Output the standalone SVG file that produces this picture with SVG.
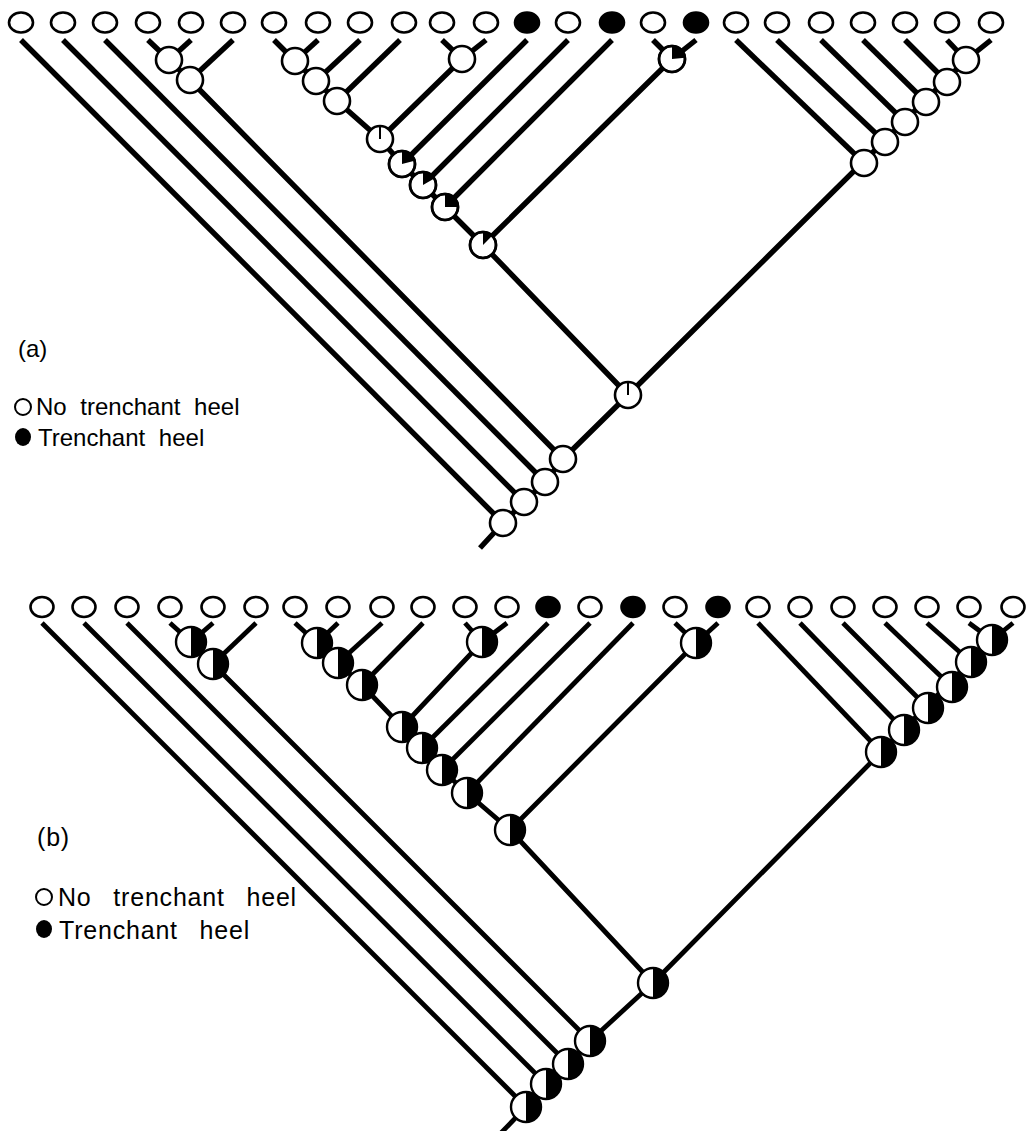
<svg xmlns="http://www.w3.org/2000/svg" width="1027" height="1131" viewBox="0 0 1027 1131">
<style>
.tip{fill:#fff;stroke:#000;stroke-width:2.6}
.tipf{fill:#000;stroke:#000;stroke-width:2.6}
.nd{fill:#fff;stroke:#000;stroke-width:2.6}
.blk{fill:#000;stroke:none}
.tick{stroke:#000;stroke-width:2}
.ea{stroke:#000;stroke-width:5.4;fill:none;stroke-linecap:butt;stroke-linejoin:round}
.eb{stroke:#000;stroke-width:4.8;fill:none;stroke-linecap:butt;stroke-linejoin:round}
.lbl{font-family:"Liberation Sans",Arial,sans-serif;font-size:24px;fill:#000;word-spacing:7px}
.lblb{font-family:"Liberation Sans",Arial,sans-serif;font-size:25px;fill:#000;word-spacing:14px;letter-spacing:0.8px}
</style>
<rect width="1027" height="1131" fill="#fff"/>

<!-- ===== Panel (a) connectors ===== -->
<g id="edges-a" class="ea">
<path d="M21,40 L503,523"/>
<path d="M63,40 L524,502"/>
<path d="M105,40 L545,482"/>
<path d="M148,40 L169,60 L190,80 L563,459"/>
<path d="M191,40 L169,60"/>
<path d="M233,40 L190,80"/>
<path d="M274,40 L295,61 L316,81 L337,101 L380,139 L402,164 L423,185 L445,207 L483,245 L628,395"/>
<path d="M318,40 L295,61"/>
<path d="M360,40 L316,81"/>
<path d="M400,40 L337,101"/>
<path d="M442,40 L462,59"/>
<path d="M486,40 L462,59 L380,139"/>
<path d="M527,40 L402,164"/>
<path d="M568,40 L423,185"/>
<path d="M612,40 L445,207"/>
<path d="M653,40 L672,59"/>
<path d="M696,40 L672,59 L483,245"/>
<path d="M736,40 L864,163"/>
<path d="M777,40 L885,142"/>
<path d="M821,40 L905,122"/>
<path d="M863,40 L926,102"/>
<path d="M905,40 L947,82"/>
<path d="M947,40 L966,60"/>
<path d="M991,40 L966,60 L628,395"/>
<path d="M628,395 L563,459 L545,482 L524,502 L503,523 L480,548"/>
</g>

<!-- ===== Panel (a) tips ===== -->
<g id="tips-a">
<ellipse id="a-t1" class="tip" cx="21" cy="22.5" rx="12" ry="10"/>
<ellipse id="a-t2" class="tip" cx="63" cy="22.5" rx="12" ry="10"/>
<ellipse id="a-t3" class="tip" cx="105" cy="22.5" rx="12" ry="10"/>
<ellipse id="a-t4" class="tip" cx="148" cy="22.5" rx="12" ry="10"/>
<ellipse id="a-t5" class="tip" cx="191" cy="22.5" rx="12" ry="10"/>
<ellipse id="a-t6" class="tip" cx="233" cy="22.5" rx="12" ry="10"/>
<ellipse id="a-t7" class="tip" cx="274" cy="22.5" rx="12" ry="10"/>
<ellipse id="a-t8" class="tip" cx="318" cy="22.5" rx="12" ry="10"/>
<ellipse id="a-t9" class="tip" cx="360" cy="22.5" rx="12" ry="10"/>
<ellipse id="a-t10" class="tip" cx="404" cy="22.5" rx="12" ry="10"/>
<ellipse id="a-t11" class="tip" cx="442" cy="22.5" rx="12" ry="10"/>
<ellipse id="a-t12" class="tip" cx="486" cy="22.5" rx="12" ry="10"/>
<ellipse id="a-t13" class="tipf" cx="527" cy="22.5" rx="12" ry="10"/>
<ellipse id="a-t14" class="tip" cx="568" cy="22.5" rx="12" ry="10"/>
<ellipse id="a-t15" class="tipf" cx="612" cy="22.5" rx="12" ry="10"/>
<ellipse id="a-t16" class="tip" cx="653" cy="22.5" rx="12" ry="10"/>
<ellipse id="a-t17" class="tipf" cx="696" cy="22.5" rx="12" ry="10"/>
<ellipse id="a-t18" class="tip" cx="736" cy="22.5" rx="12" ry="10"/>
<ellipse id="a-t19" class="tip" cx="777" cy="22.5" rx="12" ry="10"/>
<ellipse id="a-t20" class="tip" cx="821" cy="22.5" rx="12" ry="10"/>
<ellipse id="a-t21" class="tip" cx="863" cy="22.5" rx="12" ry="10"/>
<ellipse id="a-t22" class="tip" cx="905" cy="22.5" rx="12" ry="10"/>
<ellipse id="a-t23" class="tip" cx="947" cy="22.5" rx="12" ry="10"/>
<ellipse id="a-t24" class="tip" cx="991" cy="22.5" rx="12" ry="10"/>
</g>

<!-- ===== Panel (a) internal nodes ===== -->
<g id="a-A"><circle class="nd" cx="169" cy="60" r="13"/></g>
<g id="a-B"><circle class="nd" cx="190" cy="80" r="13"/></g>
<g id="a-C1"><circle class="nd" cx="295" cy="61" r="13"/></g>
<g id="a-C2"><circle class="nd" cx="316" cy="81" r="13"/></g>
<g id="a-C3"><circle class="nd" cx="337" cy="101" r="13"/></g>
<g id="a-D"><circle class="nd" cx="462" cy="59" r="13"/></g>
<g id="a-C4"><circle class="nd" cx="380" cy="139" r="13"/><line class="tick" x1="380" y1="139" x2="380" y2="126"/></g>
<g id="a-C5"><circle class="nd" cx="402" cy="164" r="13"/><path class="blk" d="M402,164 L402,151 A13,13 0 0 1 414.56,160.63 Z"/><circle cx="402" cy="164" r="13" fill="none" stroke="#000" stroke-width="2.6"/></g>
<g id="a-C6"><circle class="nd" cx="423" cy="185" r="13"/><path class="blk" d="M423,185 L423,172 A13,13 0 0 1 434.26,178.5 Z"/><circle cx="423" cy="185" r="13" fill="none" stroke="#000" stroke-width="2.6"/></g>
<g id="a-C7"><circle class="nd" cx="445" cy="207" r="13"/><path class="blk" d="M445,207 L445,194 A13,13 0 0 1 458,207 Z"/><circle cx="445" cy="207" r="13" fill="none" stroke="#000" stroke-width="2.6"/></g>
<g id="a-E"><circle class="nd" cx="672" cy="59" r="13"/><path class="blk" d="M672,59 L672,46 A13,13 0 0 1 684.95,57.87 Z"/><circle cx="672" cy="59" r="13" fill="none" stroke="#000" stroke-width="2.6"/></g>
<g id="a-C8"><circle class="nd" cx="483" cy="245" r="13"/><path class="blk" d="M483,245 L483,232 A13,13 0 0 1 492.19,235.81 Z"/><circle cx="483" cy="245" r="13" fill="none" stroke="#000" stroke-width="2.6"/></g>
<g id="a-M"><circle class="nd" cx="628" cy="395" r="13"/><line class="tick" x1="628" y1="395" x2="628" y2="382"/></g>
<g id="a-R1"><circle class="nd" cx="966" cy="60" r="13"/></g>
<g id="a-R2"><circle class="nd" cx="947" cy="82" r="13"/></g>
<g id="a-R3"><circle class="nd" cx="926" cy="102" r="13"/></g>
<g id="a-R4"><circle class="nd" cx="905" cy="122" r="13"/></g>
<g id="a-R5"><circle class="nd" cx="885" cy="142" r="13"/></g>
<g id="a-R6"><circle class="nd" cx="864" cy="163" r="13"/></g>
<g id="a-N4"><circle class="nd" cx="563" cy="459" r="13"/></g>
<g id="a-N3"><circle class="nd" cx="545" cy="482" r="13"/></g>
<g id="a-N2"><circle class="nd" cx="524" cy="502" r="13"/></g>
<g id="a-N1"><circle class="nd" cx="503" cy="523" r="13"/></g>

<!-- ===== Panel (a) legend ===== -->
<g id="legend-a">
<text class="lbl" x="18" y="357">(a)</text>
<circle cx="23" cy="407" r="8" fill="#fff" stroke="#000" stroke-width="2"/>
<text class="lbl" x="36" y="415">No trenchant heel</text>
<ellipse cx="23" cy="437" rx="8" ry="9" fill="#000"/>
<text class="lbl" x="38" y="446">Trenchant heel</text>
</g>

<!-- ===== Panel (b) connectors ===== -->
<g id="edges-b" class="eb">
<path d="M42,623 L526,1107"/>
<path d="M84,623 L546,1084"/>
<path d="M127,623 L568,1064"/>
<path d="M170,623 L191,642 L213,664 L590,1041"/>
<path d="M213,623 L191,642"/>
<path d="M256,623 L213,664"/>
<path d="M295,623 L317,643 L338,663 L362,685 L402,727 L422,748 L442,770 L467,793 L510,830 L653,983"/>
<path d="M338,623 L317,643"/>
<path d="M382,623 L338,663"/>
<path d="M423,623 L362,685"/>
<path d="M465,623 L482,642"/>
<path d="M507,623 L482,642 L402,727"/>
<path d="M548,623 L422,748"/>
<path d="M590,623 L442,770"/>
<path d="M633,623 L467,793"/>
<path d="M675,623 L696,643"/>
<path d="M718,623 L696,643 L510,830"/>
<path d="M758,623 L881,752"/>
<path d="M800,623 L904,730"/>
<path d="M843,623 L928,708"/>
<path d="M885,623 L952,687"/>
<path d="M927,623 L971,662"/>
<path d="M969,623 L992,640"/>
<path d="M1013,623 L992,640 L653,983"/>
<path d="M653,983 L590,1041 L568,1064 L546,1084 L526,1107 L500,1134"/>
</g>

<!-- ===== Panel (b) tips ===== -->
<g id="tips-b">
<ellipse id="b-t1" class="tip" cx="42" cy="607" rx="11.5" ry="10"/>
<ellipse id="b-t2" class="tip" cx="84" cy="607" rx="11.5" ry="10"/>
<ellipse id="b-t3" class="tip" cx="127" cy="607" rx="11.5" ry="10"/>
<ellipse id="b-t4" class="tip" cx="170" cy="607" rx="11.5" ry="10"/>
<ellipse id="b-t5" class="tip" cx="213" cy="607" rx="11.5" ry="10"/>
<ellipse id="b-t6" class="tip" cx="256" cy="607" rx="11.5" ry="10"/>
<ellipse id="b-t7" class="tip" cx="295" cy="607" rx="11.5" ry="10"/>
<ellipse id="b-t8" class="tip" cx="338" cy="607" rx="11.5" ry="10"/>
<ellipse id="b-t9" class="tip" cx="382" cy="607" rx="11.5" ry="10"/>
<ellipse id="b-t10" class="tip" cx="423" cy="607" rx="11.5" ry="10"/>
<ellipse id="b-t11" class="tip" cx="465" cy="607" rx="11.5" ry="10"/>
<ellipse id="b-t12" class="tip" cx="507" cy="607" rx="11.5" ry="10"/>
<ellipse id="b-t13" class="tipf" cx="548" cy="607" rx="11.5" ry="10"/>
<ellipse id="b-t14" class="tip" cx="590" cy="607" rx="11.5" ry="10"/>
<ellipse id="b-t15" class="tipf" cx="633" cy="607" rx="11.5" ry="10"/>
<ellipse id="b-t16" class="tip" cx="675" cy="607" rx="11.5" ry="10"/>
<ellipse id="b-t17" class="tipf" cx="718" cy="607" rx="11.5" ry="10"/>
<ellipse id="b-t18" class="tip" cx="758" cy="607" rx="11.5" ry="10"/>
<ellipse id="b-t19" class="tip" cx="800" cy="607" rx="11.5" ry="10"/>
<ellipse id="b-t20" class="tip" cx="843" cy="607" rx="11.5" ry="10"/>
<ellipse id="b-t21" class="tip" cx="885" cy="607" rx="11.5" ry="10"/>
<ellipse id="b-t22" class="tip" cx="927" cy="607" rx="11.5" ry="10"/>
<ellipse id="b-t23" class="tip" cx="969" cy="607" rx="11.5" ry="10"/>
<ellipse id="b-t24" class="tip" cx="1013" cy="607" rx="11.5" ry="10"/>
</g>

<!-- ===== Panel (b) internal nodes (half black) ===== -->
<defs>
<g id="half">
<circle r="15" fill="#fff"/>
<path d="M0,-15 A15,15 0 0 1 0,15 Z" fill="#000"/>
<circle r="15" fill="none" stroke="#000" stroke-width="2.4"/>
</g>
</defs>
<g id="b-A"><use href="#half" x="191" y="642"/></g>
<g id="b-B"><use href="#half" x="213" y="664"/></g>
<g id="b-C1"><use href="#half" x="317" y="643"/></g>
<g id="b-C2"><use href="#half" x="338" y="663"/></g>
<g id="b-C3"><use href="#half" x="362" y="685"/></g>
<g id="b-D"><use href="#half" x="482" y="642"/></g>
<g id="b-C4"><use href="#half" x="402" y="727"/></g>
<g id="b-C5"><use href="#half" x="422" y="748"/></g>
<g id="b-C6"><use href="#half" x="442" y="770"/></g>
<g id="b-C7"><use href="#half" x="467" y="793"/></g>
<g id="b-E"><use href="#half" x="696" y="643"/></g>
<g id="b-C8"><use href="#half" x="510" y="830"/></g>
<g id="b-M"><use href="#half" x="653" y="983"/></g>
<g id="b-R1"><use href="#half" x="992" y="640"/></g>
<g id="b-R2"><use href="#half" x="971" y="662"/></g>
<g id="b-R3"><use href="#half" x="952" y="687"/></g>
<g id="b-R4"><use href="#half" x="928" y="708"/></g>
<g id="b-R5"><use href="#half" x="904" y="730"/></g>
<g id="b-R6"><use href="#half" x="881" y="752"/></g>
<g id="b-N4"><use href="#half" x="590" y="1041"/></g>
<g id="b-N3"><use href="#half" x="568" y="1064"/></g>
<g id="b-N2"><use href="#half" x="546" y="1084"/></g>
<g id="b-N1"><use href="#half" x="526" y="1107"/></g>

<!-- ===== Panel (b) legend ===== -->
<g id="legend-b">
<text class="lblb" x="37" y="846">(b)</text>
<circle cx="44" cy="897" r="8" fill="#fff" stroke="#000" stroke-width="2"/>
<text class="lblb" x="58" y="906">No trenchant heel</text>
<ellipse cx="44" cy="929" rx="8" ry="9" fill="#000"/>
<text class="lblb" x="59" y="939">Trenchant heel</text>
</g>
</svg>
